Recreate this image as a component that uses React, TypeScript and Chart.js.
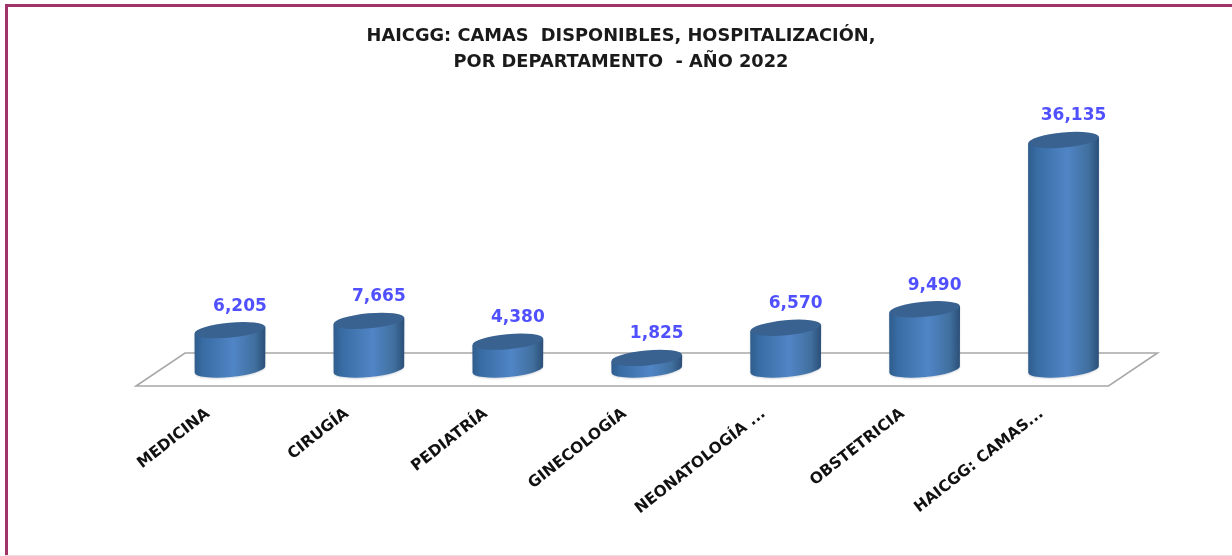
import React, { useEffect, useRef } from "react";
import { Chart, registerables } from "chart.js";

Chart.register(...registerables);

const categories = ["MEDICINA", "CIRUGÍA", "PEDIATRÍA", "GINECOLOGÍA", "NEONATOLOGÍA ...", "OBSTETRICIA", "HAICGG: CAMAS..."];
const camas = [6205, 7665, 4380, 1825, 6570, 9490, 36135];
const titleLines = ["HAICGG: CAMAS  DISPONIBLES, HOSPITALIZACIÓN,", "POR DEPARTAMENTO  - AÑO 2022"];

const TILT = -5.3 * Math.PI / 180;
const RY = 7.5;

const cylinderPlugin = {
  id: "cylinder",
  beforeDatasetsDraw(chart: any) {
    const { ctx, chartArea } = chart;
    const base = chart.scales.y.getPixelForValue(0);
    const d = 24.5, h = 16.5;
    ctx.save();
    ctx.strokeStyle = "#a8a8a8";
    ctx.lineWidth = 1.6;
    ctx.beginPath();
    ctx.moveTo(chartArea.left - d, base + h);
    ctx.lineTo(chartArea.right - d, base + h);
    ctx.lineTo(chartArea.right + d, base - h);
    ctx.lineTo(chartArea.left + d, base - h);
    ctx.closePath();
    ctx.stroke();
    ctx.restore();
  },
  beforeDatasetDraw() {
    return false;
  },
  afterDatasetsDraw(chart: any) {
    const { ctx } = chart;
    const meta = chart.getDatasetMeta(0);
    meta.data.forEach((bar: any, i: number) => {
      const { x, y, base, width } = bar.getProps(["x", "y", "base", "width"], true);
      const rx = width / 2;
      const g = ctx.createLinearGradient(x - rx, 0, x + rx, 0);
      g.addColorStop(0, "#2f5c8c");
      g.addColorStop(0.12, "#386ca3");
      g.addColorStop(0.55, "#5085c6");
      g.addColorStop(0.85, "#41709f");
      g.addColorStop(1, "#2b4f78");
      const rise = rx * Math.sin(-TILT);
      ctx.save();
      ctx.beginPath();
      ctx.ellipse(x, base, rx, RY, TILT, 0, Math.PI);
      ctx.lineTo(x - rx, y + rise);
      ctx.lineTo(x + rx, y - rise);
      ctx.closePath();
      ctx.fillStyle = g;
      ctx.shadowColor = "rgba(120,130,150,0.3)";
      ctx.shadowBlur = 2;
      ctx.shadowOffsetY = 1;
      ctx.fill();
      ctx.restore();
      ctx.save();
      ctx.beginPath();
      ctx.ellipse(x, y, rx, RY, TILT, 0, Math.PI * 2);
      ctx.fillStyle = "#396290";
      ctx.fill();
      ctx.restore();
      ctx.save();
      ctx.font = "bold 17px 'DejaVu Sans'";
      ctx.fillStyle = "#5050ff";
      ctx.textAlign = "center";
      ctx.textBaseline = "middle";
      ctx.fillText(camas[i].toLocaleString("en-US"), x + 10, y - 24);
      ctx.restore();
    });
  },
};

export default function App() {
  const ref = useRef<HTMLCanvasElement>(null);
  useEffect(() => {
    const chart = new Chart(ref.current as HTMLCanvasElement, {
      type: "bar",
      data: {
        labels: categories,
        datasets: [{ label: "Camas", data: camas, backgroundColor: "#4a7ebb", barPercentage: 0.51, categoryPercentage: 1 }],
      },
      plugins: [cylinderPlugin],
      options: {
        responsive: false,
        animation: false,
        layout: { padding: { left: 10, right: 0, top: 0, bottom: 0 } },
        plugins: {
          legend: { display: false },
          tooltip: { enabled: false },
          title: {
            display: true,
            text: titleLines,
            color: "#1a1a1a",
            font: { family: "'DejaVu Sans'", weight: "bold", size: 17.8, lineHeight: 1.46 },
            padding: { top: 23, bottom: 40.5 },
          },
        },
        scales: {
          x: {
            grid: { display: false, drawTicks: false },
            border: { display: false },
            afterFit: (s: any) => { s.height = 186.5; },
            ticks: {
              autoSkip: false,
              minRotation: 38,
              maxRotation: 38,
              padding: 35,
              labelOffset: -22,
              color: "#111111",
              font: { family: "'DejaVu Sans'", weight: "bold", size: 15.5 },
            },
          },
          y: {
            min: 0,
            max: 40000,
            grid: { display: false },
            border: { display: false },
            ticks: { display: false },
            afterFit: (s: any) => { s.width = 150.5; },
          },
          y2: {
            position: "right",
            grid: { display: false },
            border: { display: false },
            ticks: { display: false },
            afterFit: (s: any) => { s.width = 99; },
          },
        },
      } as any,
    });
    return () => chart.destroy();
  }, []);
  return (
    <div style={{ position: "absolute", left: 0, top: 0, width: 1232, height: 556, background: "#fff", overflow: "hidden" }}>
      <canvas ref={ref} width={1232} height={556} style={{ display: "block", filter: "blur(0.4px)" }} />
      <div style={{ position: "absolute", left: 5, top: 4, right: 0, height: 3, background: "#a03468" }} />
      <div style={{ position: "absolute", left: 5, top: 4, bottom: 0, width: 3, background: "#a03468" }} />
      <div style={{ position: "absolute", left: 5, bottom: 0, right: 0, height: 1, background: "#ecd9e2" }} />
    </div>
  );
}
